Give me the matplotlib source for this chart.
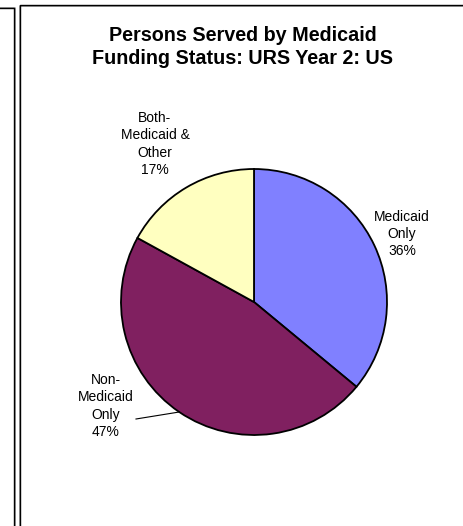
import numpy as np
import matplotlib
matplotlib.use("Agg")
import matplotlib.pyplot as plt
from matplotlib.lines import Line2D

plt.rcParams['font.family'] = ['Liberation Sans', 'DejaVu Sans']

# data
categories = ['Medicaid\nOnly', 'Non-\nMedicaid\nOnly', 'Both-\nMedicaid &\nOther']
shares = [36, 47, 17]
colors = ['#8080FF', '#802060', '#FFFFC0']
title = 'Persons Served by Medicaid\nFunding Status: URS Year 2: US'

W, H = 464, 526
fig = plt.figure(figsize=(W / 100, H / 100), dpi=100)
ax = fig.add_axes([0, 0, 1, 1])

cx, cy, r = 254, H - 302, 133
wedges, _ = ax.pie(shares, colors=colors, startangle=90, counterclock=False,
                   center=(cx, cy), radius=r, frame=True,
                   wedgeprops=dict(edgecolor='black', linewidth=1.3))
ax.set_xlim(0, W)
ax.set_ylim(0, H)
ax.set_aspect('equal')
ax.axis('off')

# label positions (pixel layout, y from top)
label_pos = [(402, 234), (106, 406), (155, 144)]
for w, lab, pct, (lx, ly) in zip(wedges, categories, shares, label_pos):
    txt = f'{lab}\n{pct}%'
    ax.text(lx, H - ly, txt, ha='center', va='center', fontsize=10,
            linespacing=1.3)

# leader line for the Non-Medicaid slice
w = wedges[1]
mid = np.deg2rad((w.theta1 + w.theta2) / 2)
ex, ey = cx + r * np.cos(mid), cy + r * np.sin(mid)
ax.plot([136, ex], [H - 419, ey], color='black', lw=0.8)

fig.text(243 / W, 1 - 47 / H, title, ha='center', va='center',
         fontsize=14.2, fontweight='bold', linespacing=1.3)

# frame lines
def pline(xs, ys, **kw):
    fig.add_artist(Line2D([x / W for x in xs], [1 - y / H for y in ys],
                          transform=fig.transFigure, **kw))

pline([0, 15, 15], [8, 8, H], color='#909090', lw=1.2)
pline([0, 14.5, 14.5], [7.5, 7.5, H], color='black', lw=1.0)
pline([20.5, 20.5, W], [H, 5.5, 5.5], color='#909090', lw=1.2)
pline([20, 20, W], [H, 5, 5], color='black', lw=1.0)

fig.savefig('out.png', dpi=100, facecolor='white')
